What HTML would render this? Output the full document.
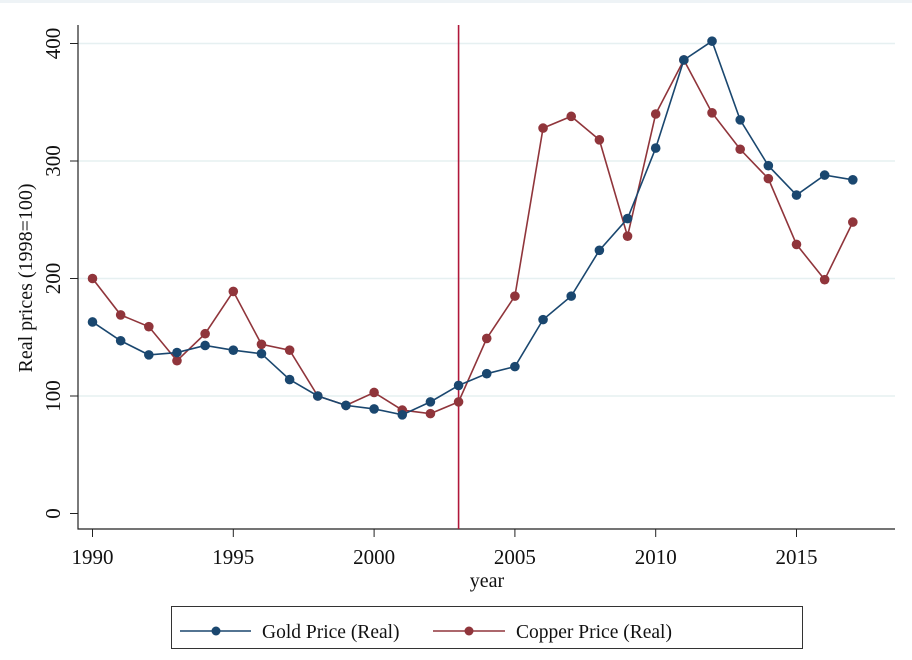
<!DOCTYPE html>
<html><head><meta charset="utf-8"><style>
html,body{margin:0;padding:0;background:#fff;}
svg{display:block;font-family:"Liberation Serif",serif;}
</style></head><body>
<svg id="chart" width="912" height="660">
<rect x="0" y="0" width="912" height="3" fill="#eef3f6"/>
<g id="grid"></g><g id="axes"></g><g id="series"></g>
<g>
<rect x="171.5" y="606.5" width="631" height="42" fill="#fff" stroke="#333" stroke-width="1"/>
<g>
<line x1="180" y1="631" x2="251" y2="631" stroke="#1a476f" stroke-width="1.6"/>
<circle cx="216" cy="631" r="4.5" fill="#1a476f"/>
<text x="262" y="638" font-size="19.5" fill="#111">Gold Price (Real)</text></g>
<g>
<line x1="433" y1="631" x2="505" y2="631" stroke="#90353b" stroke-width="1.6"/>
<circle cx="469" cy="631" r="4.5" fill="#90353b"/>
<text x="516" y="638" font-size="19.5" fill="#111">Copper Price (Real)</text></g>
</g>
</svg>
<script>
const years=[1990,1991,1992,1993,1994,1995,1996,1997,1998,1999,2000,2001,2002,2003,2004,2005,2006,2007,2008,2009,2010,2011,2012,2013,2014,2015,2016,2017];
const gold=[163,147,135,137,143,139,136,114,100,92,89,84,95,109,119,125,165,185,224,251,311,386,402,335,296,271,288,284];
const copper=[200,169,159,130,153,189,144,139,100,92,103,88,85,95,149,185,328,338,318,236,340,386,341,310,285,229,199,248];
const yTicks=[0,100,200,300,400];
const xTicks=[1990,1995,2000,2005,2010,2015];
const markerYear=2003;
const NS="http://www.w3.org/2000/svg";
const X=v=>92.5+(v-1990)*28.16;
const Y=v=>513.5-v*1.175;
function mk(tag,attrs,parent){const e=document.createElementNS(NS,tag);for(const k in attrs)e.setAttribute(k,attrs[k]);parent.appendChild(e);return e;}
const grid=document.getElementById('grid'),axes=document.getElementById('axes'),ser=document.getElementById('series');
yTicks.forEach(t=>{
 if(t>0){const g=mk('line',{x1:78,x2:895,y1:Y(t),y2:Y(t),stroke:'#e6f0f1','stroke-width':1.4},grid);
 
 }
 mk('line',{x1:70,x2:78,y1:Y(t),y2:Y(t),stroke:'#222'},axes);
 const tx=mk('text',{x:0,y:0,'font-size':21,'text-anchor':'middle',fill:'#111',transform:`translate(60,${Y(t)}) rotate(-90)`},axes);
 tx.textContent=t;
 
 
});
xTicks.forEach(t=>{
 mk('line',{x1:X(t),x2:X(t),y1:529,y2:537,stroke:'#222'},axes);
 const tx=mk('text',{x:X(t),y:564,'font-size':21,'text-anchor':'middle',fill:'#111'},axes);
 tx.textContent=t;
 
 
});
const ya=mk('line',{x1:78,x2:78,y1:25,y2:529.5,stroke:'#222','stroke-width':1.2},axes);


const xa=mk('line',{x1:77.5,x2:895,y1:529,y2:529,stroke:'#222','stroke-width':1.2},axes);


const xt=mk('text',{x:487,y:587,'font-size':20,'text-anchor':'middle',fill:'#111'},axes);
xt.textContent='year';


const yt=mk('text',{x:0,y:0,'font-size':20,'text-anchor':'middle',fill:'#111',transform:'translate(32,278) rotate(-90)'},axes);
yt.textContent='Real prices (1998=100)';


const vl=mk('line',{x1:X(markerYear),x2:X(markerYear),y1:25,y2:529,stroke:'#b0173a','stroke-width':1.6},ser);


function draw(vals,color,name){
 const pl=mk('polyline',{points:vals.map((v,i)=>X(years[i])+','+Y(v)).join(' '),fill:'none',stroke:color,'stroke-width':1.6},ser);
 
 
 vals.forEach((v,i)=>{const c=mk('circle',{cx:X(years[i]),cy:Y(v),r:4.8,fill:color},ser);
 
 });
}
draw(copper,'#90353b','copper');
draw(gold,'#1a476f','gold');
</script>
</body></html>
